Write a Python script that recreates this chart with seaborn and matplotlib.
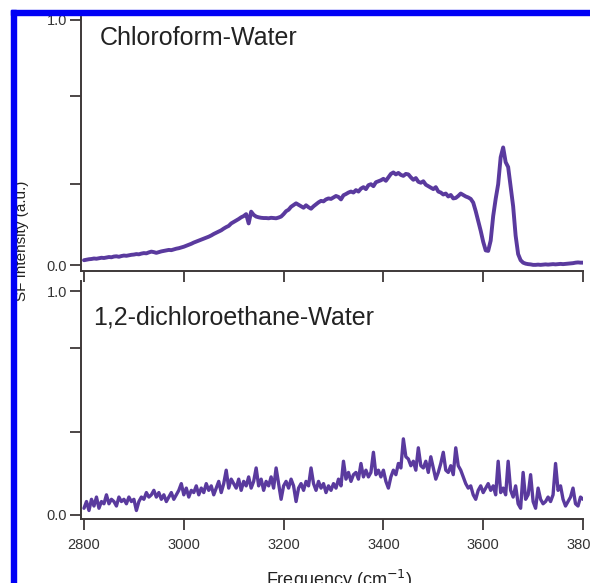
import numpy as np
import pandas as pd
import matplotlib
matplotlib.use("Agg")
import matplotlib.pyplot as plt
from matplotlib.patches import Rectangle
import seaborn as sns

# Frequency grid (cm^-1), 5 cm^-1 steps
freq = list(range(2800, 3805, 5))

# SF intensity, chloroform-water interface
chloroform_water = [
    0.020, 0.022, 0.024, 0.025, 0.027, 0.026, 0.028, 0.030, 0.029, 0.031,
    0.033, 0.032, 0.035, 0.036, 0.034, 0.037, 0.039, 0.038, 0.040, 0.042,
    0.043, 0.045, 0.044, 0.047, 0.049, 0.048, 0.052, 0.055, 0.053, 0.050,
    0.053, 0.056, 0.058, 0.060, 0.062, 0.061, 0.064, 0.067, 0.069, 0.072,
    0.075, 0.079, 0.083, 0.087, 0.092, 0.096, 0.100, 0.104, 0.108, 0.112,
    0.116, 0.121, 0.127, 0.132, 0.137, 0.142, 0.149, 0.155, 0.160, 0.170,
    0.176, 0.182, 0.188, 0.195, 0.200, 0.208, 0.170, 0.218, 0.205, 0.198,
    0.195, 0.193, 0.192, 0.192, 0.191, 0.193, 0.192, 0.191, 0.194, 0.198,
    0.208, 0.220, 0.226, 0.238, 0.245, 0.252, 0.246, 0.240, 0.234, 0.244,
    0.236, 0.230, 0.240, 0.248, 0.256, 0.262, 0.260, 0.268, 0.272, 0.270,
    0.276, 0.282, 0.278, 0.268, 0.285, 0.290, 0.296, 0.300, 0.296, 0.306,
    0.300, 0.312, 0.318, 0.310, 0.326, 0.330, 0.322, 0.338, 0.342, 0.346,
    0.352, 0.344, 0.358, 0.372, 0.378, 0.370, 0.376, 0.368, 0.364, 0.372,
    0.370, 0.358, 0.348, 0.355, 0.340, 0.336, 0.342, 0.328, 0.322, 0.316,
    0.310, 0.318, 0.300, 0.296, 0.288, 0.292, 0.280, 0.286, 0.272, 0.274,
    0.282, 0.292, 0.286, 0.280, 0.276, 0.270, 0.255, 0.220, 0.180, 0.140,
    0.095, 0.060, 0.058, 0.100, 0.200, 0.270, 0.330, 0.440, 0.480, 0.420,
    0.400, 0.320, 0.240, 0.120, 0.045, 0.020, 0.010, 0.006, 0.004, 0.003,
    0.001, 0.001, 0.002, 0.001, 0.002, 0.003, 0.002, 0.003, 0.004, 0.003,
    0.004, 0.005, 0.004, 0.005, 0.006, 0.007, 0.008, 0.010, 0.011, 0.010,
    0.010,
]

# SF intensity, 1,2-dichloroethane-water interface
dichloroethane_water = [
    0.03, 0.06, 0.02, 0.07, 0.04, 0.08, 0.03, 0.06, 0.05, 0.09,
    0.05, 0.07, 0.06, 0.04, 0.08, 0.06, 0.07, 0.05, 0.08, 0.06,
    0.07, 0.02, 0.06, 0.08, 0.07, 0.10, 0.08, 0.09, 0.11, 0.08,
    0.10, 0.07, 0.09, 0.06, 0.08, 0.10, 0.07, 0.09, 0.11, 0.14,
    0.09, 0.12, 0.08, 0.11, 0.10, 0.13, 0.09, 0.12, 0.10, 0.14,
    0.11, 0.13, 0.09, 0.12, 0.15, 0.10, 0.14, 0.20, 0.12, 0.16,
    0.14, 0.12, 0.16, 0.11, 0.15, 0.13, 0.17, 0.12, 0.15, 0.21,
    0.13, 0.16, 0.11, 0.15, 0.13, 0.17, 0.12, 0.21, 0.14, 0.07,
    0.13, 0.15, 0.12, 0.16, 0.13, 0.06, 0.12, 0.14, 0.11, 0.15,
    0.13, 0.21, 0.14, 0.11, 0.15, 0.12, 0.14, 0.10, 0.13, 0.11,
    0.14, 0.12, 0.16, 0.13, 0.24, 0.16, 0.19, 0.15, 0.18, 0.19,
    0.16, 0.23, 0.17, 0.20, 0.17, 0.19, 0.28, 0.18, 0.20, 0.17,
    0.20, 0.15, 0.12, 0.17, 0.20, 0.18, 0.23, 0.21, 0.34, 0.26,
    0.25, 0.22, 0.24, 0.20, 0.30, 0.22, 0.21, 0.24, 0.19, 0.26,
    0.21, 0.16, 0.19, 0.23, 0.28, 0.20, 0.19, 0.22, 0.18, 0.30,
    0.22, 0.20, 0.17, 0.14, 0.12, 0.13, 0.09, 0.07, 0.11, 0.13,
    0.10, 0.12, 0.14, 0.11, 0.13, 0.09, 0.24, 0.10, 0.12, 0.09,
    0.24, 0.11, 0.08, 0.13, 0.05, 0.03, 0.19, 0.07, 0.09, 0.18,
    0.06, 0.03, 0.12, 0.07, 0.05, 0.06, 0.08, 0.06, 0.09, 0.23,
    0.11, 0.13, 0.07, 0.04, 0.06, 0.08, 0.12, 0.05, 0.04, 0.08,
    0.07,
]

panel_titles = ["Chloroform-Water", "1,2-dichloroethane-Water"]
x_ticks = [2800, 3000, 3200, 3400, 3600, 3800]
y_label_ticks = [0.0, 1.0]

sns.set_theme(style="ticks")
plt.rcParams["font.family"] = ["Liberation Sans", "DejaVu Sans"]

W, H = 590, 583
fig = plt.figure(figsize=(W / 100, H / 100), dpi=100)
fig.patch.set_facecolor("white")

line_color = "#5a3a9e"
axis_color = "#3e3838"
text_color = "#222222"

df_top = pd.DataFrame({"freq": freq, "sf": chloroform_water})
df_bot = pd.DataFrame({"freq": freq, "sf": dichloroethane_water})

def px_box(x0, y_top, x1, y_bot):
    return [x0 / W, 1 - y_bot / H, (x1 - x0) / W, (y_bot - y_top) / H]

ax_top = fig.add_axes(px_box(81, 17, 583, 271))
ax_bot = fig.add_axes(px_box(81, 281, 583, 519))

panels = [
    (ax_top, df_top, (-0.024, 1.012), [0.33, 0.69], 2.8),
    (ax_bot, df_bot, (-0.018, 1.045), [0.37, 0.745], 2.4),
]

for ax, df, ylim, minor_y, lw in panels:
    sns.lineplot(data=df, x="freq", y="sf", ax=ax, color=line_color,
                 linewidth=lw, legend=False)
    ax.set_xlim(2794, 3800)
    ax.set_ylim(*ylim)
    ax.set_xlabel("")
    ax.set_ylabel("")
    ax.set_facecolor("none")
    sns.despine(ax=ax)
    for side in ("left", "bottom"):
        ax.spines[side].set_color(axis_color)
        ax.spines[side].set_linewidth(1.4)
    ax.set_xticks(x_ticks)
    ax.set_yticks(y_label_ticks + minor_y)
    ax.set_yticklabels(["0.0", "1.0", "", ""])
    ax.tick_params(axis="both", direction="out", length=8, width=1.3,
                   color=axis_color, labelcolor="#333333", labelsize=10.5,
                   pad=2)

ax_top.tick_params(axis="x", labelbottom=False)
ax_bot.set_xticklabels([str(v) for v in x_ticks])
ax_bot.tick_params(axis="x", pad=6)

fig.text(100 / W, 1 - 45 / H, panel_titles[0], fontsize=18,
         color=text_color, va="baseline", ha="left")
fig.text(93 / W, 1 - 325 / H, panel_titles[1], fontsize=18,
         color=text_color, va="baseline", ha="left")

fig.text(22 / W, 1 - 241 / H, "SF Intensity (a.u.)", fontsize=11,
         rotation=90, color=text_color, va="center", ha="center")
fig.text(339 / W, -3 / H, "Frequency (cm$^{-1}$)", fontsize=13,
         color=text_color, va="baseline", ha="center")

# blue frame along the left and top edges
blue = "#0000f5"
fig.add_artist(Rectangle((11 / W, 0), 5 / W, 1 - 10 / H,
                         transform=fig.transFigure, color=blue, zorder=10))
fig.add_artist(Rectangle((11 / W, 1 - 15 / H), 1 - 11 / W, 5 / H,
                         transform=fig.transFigure, color=blue, zorder=10))

fig.savefig("out.png", dpi=100, facecolor="white")
